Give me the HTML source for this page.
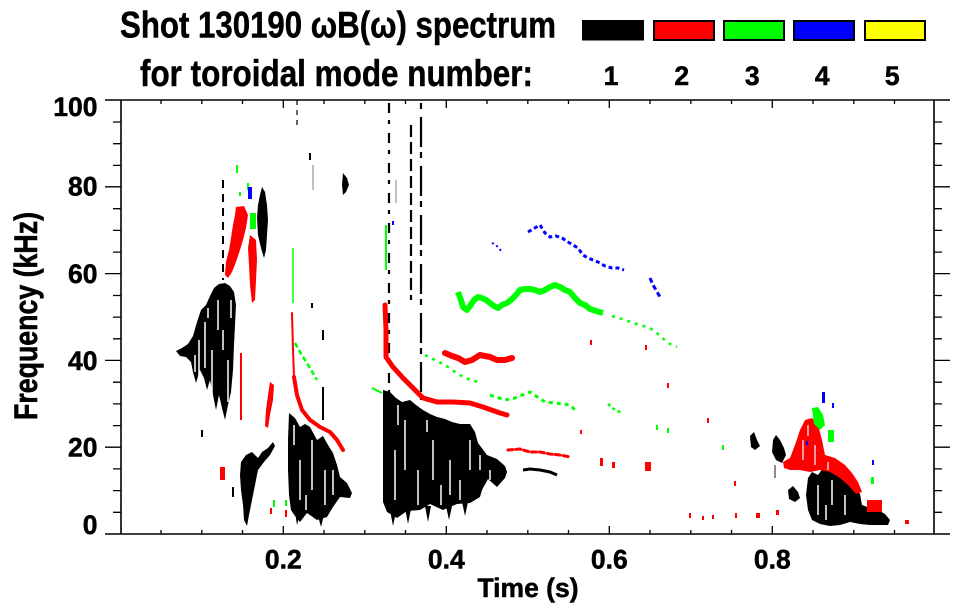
<!DOCTYPE html>
<html><head><meta charset="utf-8"><style>
html,body{margin:0;padding:0;background:#fff;}
svg{display:block;}
text{font-family:"Liberation Sans",Arial,sans-serif;font-weight:bold;fill:#000;stroke:#000;stroke-width:0.5;}
</style></head><body>
<svg width="963" height="615" viewBox="0 0 963 615" xmlns="http://www.w3.org/2000/svg">
<rect width="963" height="615" fill="#fff"/>

<!-- Title -->
<text x="120" y="37.3" font-size="37.5" textLength="436" lengthAdjust="spacingAndGlyphs">Shot 130190 ωB(ω) spectrum</text>
<text x="140" y="86" font-size="37.5" textLength="393" lengthAdjust="spacingAndGlyphs">for toroidal mode number:</text>

<!-- Legend -->
<rect x="582" y="20" width="62" height="20.5" fill="#000"/>
<rect x="654" y="21" width="60" height="19" fill="#ff0000" stroke="#000" stroke-width="2"/>
<rect x="724" y="21" width="60" height="19" fill="#00ff00" stroke="#000" stroke-width="2"/>
<rect x="794" y="21" width="60" height="19" fill="#0000ff" stroke="#000" stroke-width="2"/>
<rect x="865" y="21" width="60" height="19" fill="#ffff00" stroke="#000" stroke-width="2"/>
<g font-size="26.5" text-anchor="middle">
<text x="611" y="85">1</text>
<text x="681.7" y="85">2</text>
<text x="752.3" y="85">3</text>
<text x="822.3" y="85">4</text>
<text x="892.3" y="85">5</text>
</g>

<!-- ===== DATA ===== -->
<g fill="#000">
<polygon points="176,351 182,348 188,344 193,336 197,322 201,310 206,305 210,296 214,288 219,284 225,283 230,286 234,292 236,305 235,325 234,345 233,370 231,392 228,405 225,420 222,408 219,395 216,410 213,395 210,380 207,390 204,378 200,370 196,383 193,372 191,362 186,357 180,356"/>
<polygon points="262,187 265,192 267,205 268,220 267,235 266,250 264,258 261,248 258,235 257,218 258,205 260,195"/>
<polygon points="241,462 246,455 252,452 258,458 262,452 268,448 273,442 275,446 270,455 264,462 258,470 255,485 252,500 249,515 247,526 244,520 243,505 241,490 240,475"/>
<polygon points="289,413 295,418 300,427 305,424 310,427 317,440 323,436 328,445 333,453 337,465 340,477 347,483 352,493 350,498 340,497 333,507 327,517 317,520 307,513 300,522 295,516 291,510 289,495 288,470 288,440"/>
<polygon points="343,173 347,178 349,185 346,192 343,195 342,185"/>
<polygon points="383,390 390,392 396,398 402,402 410,400 416,405 423,410 430,414 437,417 445,419 452,422 460,424 470,424 475,432 478,443 487,455 497,459 505,466 507,472 505,478 497,487 488,479 482,490 480,497 470,503 457,504 443,510 430,504 420,510 407,511 397,518 387,512 383,502"/>
<!-- bottom spikes of L -->
<polygon points="390,510 393,526 396,512"/>
<polygon points="405,508 408,524 411,509"/>
<polygon points="425,506 428,522 431,506"/>
<polygon points="446,506 449,520 452,506"/>
<polygon points="462,502 465,516 468,502"/>
<polygon points="295,512 297,525 300,514"/>
<polygon points="318,516 321,527 324,515"/>
<!-- late black blobs -->
<polygon points="750,436 754,432 757,440 760,446 755,450 751,447"/>
<polygon points="773,440 776,435 780,440 784,448 786,455 782,463 776,460 772,452"/>
<polygon points="788,490 793,486 798,492 800,498 795,502 789,499"/>
<polygon points="808,478 812,472 818,475 823,468 830,466 835,472 840,478 845,475 850,485 855,488 860,494 862,505 870,508 878,510 885,514 890,520 888,525 870,525 860,524 850,522 840,525 830,526 820,524 812,520 808,510 806,495"/>
<polyline points="523,470 530,469 540,470 550,472 557,475" fill="none" stroke="#000" stroke-width="3"/>
</g>

<!-- black vertical dashed columns -->
<g stroke="#000" fill="none">
<path d="M223,180 V280" stroke-width="2" stroke-dasharray="8 6"/>
<path d="M389,103 V400" stroke-width="2.2" stroke-dasharray="10 7 4 9"/>
<path d="M411,125 V300" stroke-width="2.2" stroke-dasharray="12 5"/>
<path d="M421,103 V400" stroke-width="2.2" stroke-dasharray="6 8 30 5"/>
<path d="M297,100 V130" stroke-width="1.2" stroke-dasharray="5 5"/>
<path d="M310,153 V160" stroke-width="2"/>
<path d="M323,330 V340 M323,387 V420 M312,303 V308 M233,487 V497 M202,430 V437" stroke-width="2"/>
<path d="M775,465 V478" stroke-width="1.5" stroke="#666"/>
<path d="M313,165 V190 M396,180 V203" stroke-width="1.5" stroke="#aaa"/>
</g>

<!-- red features -->
<g fill="#ff0000">
<polygon points="236,207 244,206 248,215 246,228 243,240 240,250 236,262 232,272 228,278 225,275 226,262 229,250 231,238 233,225 235,215"/>
<polygon points="250,235 256,240 257,260 256,280 255,300 252,303 250,285 249,265 248,248"/>
<polygon points="270,382 274,385 273,400 270,415 268,428 265,426 266,410 268,395"/>
<polygon points="783,462 790,458 795,445 800,430 805,420 812,418 818,425 822,440 825,455 835,458 845,465 852,473 858,482 862,492 856,494 848,485 840,478 830,472 820,470 810,472 800,470 790,470 784,468"/>
<rect x="867" y="500" width="15" height="12"/>
<rect x="240" y="353" width="2" height="67"/>
<rect x="220" y="467" width="5" height="13"/>
<rect x="270" y="508" width="2" height="6"/>
<rect x="285" y="510" width="2" height="7"/>
<rect x="600" y="458" width="3" height="8"/>
<rect x="612" y="462" width="3" height="6"/>
<rect x="645" y="462" width="6" height="9"/>
<rect x="667" y="383" width="2" height="5"/>
<rect x="707" y="418" width="2" height="5"/>
<rect x="734" y="481" width="2" height="5"/>
<rect x="689" y="513" width="2" height="5"/>
<rect x="702" y="516" width="2" height="4"/>
<rect x="712" y="515" width="2" height="4"/>
<rect x="735" y="513" width="2" height="5"/>
<rect x="756" y="513" width="4" height="5"/>
<rect x="776" y="510" width="3" height="5"/>
<rect x="905" y="520" width="4" height="4"/>
<rect x="645" y="345" width="2" height="5"/>
<rect x="590" y="340" width="2" height="5"/>
<rect x="580" y="430" width="2" height="4"/>
</g>
<g fill="none" stroke="#ff0000" stroke-linejoin="round" stroke-linecap="round">
<polyline points="292,313 293,350 294,377" stroke-width="2"/>
<polyline points="294,377 297,395 302,410 310,420 320,427 330,432 337,440 343,450" stroke-width="4"/>
<polyline points="385,305 386,330 386,357 393,367 403,378 413,388 423,398 437,402 453,402 470,403 483,407 500,413 507,415" stroke-width="5"/>
<polyline points="445,353 452,356 458,358 465,362 472,360 480,355 490,357 497,360 505,360 512,358" stroke-width="6"/>
<polyline points="508,450 520,449 530,452 540,452 550,454 560,455 570,457" stroke-width="3" stroke-dasharray="5 3"/>
</g>

<!-- white texture streaks over blobs -->
<g stroke="#fff" stroke-width="1.5" fill="none">
<path d="M199,340 V380 M205,322 V368 M212,350 V400 M218,300 V330 M228,360 V402 M195,355 V372 M223,330 V350 M208,308 V318 M231,300 V318"/>
<path d="M300,460 V500 M312,440 V490 M325,470 V505 M294,425 V445 M333,470 V495 M306,495 V510"/>
<path d="M395,450 V500 M405,420 V470 M418,470 V505 M433,440 V480 M450,460 V495 M470,440 V470 M490,470 V480 M398,405 V425 M460,480 V500 M427,420 V432 M441,485 V505 M480,455 V470"/>
<path d="M818,485 V515 M832,480 V505 M845,495 V515 M826,505 V520"/>
<path d="M803,440 V460 M815,445 V465 M828,462 V470 M808,425 V436" stroke-width="1.2"/>
</g>

<!-- green features -->
<g fill="none" stroke="#00ff00" stroke-linejoin="round">
<polyline points="458,292 461,300 463,307 467,310 470,306 474,300 478,297 482,298 486,300 490,303 494,306 498,308 502,305 507,303 511,300 515,296 520,290 525,289 530,289 535,290 540,292 545,290 550,287 555,285 560,287 565,290 570,292 575,298 580,303 585,305 590,309 596,311 603,313" stroke-width="6"/>
<polyline points="295,343 300,352 305,360 310,368 317,380" stroke-width="2.5" stroke-dasharray="5 3"/>
<path d="M293,248 V303" stroke-width="1.5"/>
<path d="M386,225 V270" stroke-width="2"/>
<polyline points="425,355 435,360 445,365 455,372 465,378 478,382" stroke-width="2.5" stroke-dasharray="3 5"/>
<polyline points="490,395 505,400 515,398 530,392 545,402 555,403 570,405 577,412" stroke-width="3" stroke-dasharray="4 4"/>
<polyline points="608,404 615,410 623,413" stroke-width="2.5" stroke-dasharray="3 3"/>
<polyline points="612,316 625,320 640,325 650,328 658,334 668,343 677,347" stroke-width="2.5" stroke-dasharray="3 5"/>
<polyline points="372,388 382,393" stroke-width="2"/>
</g>
<g fill="#00ff00">
<polygon points="812,408 818,407 823,415 825,425 820,430 814,424"/>
<rect x="828" y="430" width="6" height="12"/>
<rect x="871" y="477" width="3" height="7"/>
<rect x="236" y="165" width="2" height="8"/>
<rect x="239" y="192" width="2" height="4"/>
<rect x="247" y="183" width="2" height="7"/>
<rect x="250" y="213" width="6" height="16"/>
<rect x="273" y="500" width="2" height="7"/>
<rect x="285" y="500" width="2" height="6"/>
<rect x="656" y="425" width="2" height="5"/>
<rect x="667" y="428" width="2" height="5"/>
<rect x="722" y="445" width="2" height="5"/>
</g>

<!-- blue features -->
<g fill="none" stroke="#0000ff">
<polyline points="528,232 533,229 540,225 545,233 550,237 556,236 562,238 568,242 573,245 578,248 583,255 588,258 593,260 598,262 605,266 612,268 618,268 624,270" stroke-width="3" stroke-dasharray="4 3"/>
<polyline points="492,243 496,245 503,253" stroke-width="2" stroke-dasharray="2 3"/>
<polyline points="650,278 653,285 656,290 660,297" stroke-width="3" stroke-dasharray="5 3"/>
</g>
<g fill="#0000ff">
<rect x="248" y="187" width="4" height="12"/>
<rect x="822" y="392" width="3" height="11"/>
<rect x="832" y="403" width="2" height="5"/>
<rect x="872" y="460" width="2" height="5"/>
<rect x="392" y="221" width="2" height="4"/>
<rect x="806" y="441" width="2" height="4"/>
</g>

<!-- ===== AXES ===== -->
<g stroke="#000" fill="none">
<path d="M121,100 V534 M934,100 V534" stroke-width="1.6"/>
<path d="M105,100 H950 M105,534 H950" stroke-width="1.6"/>
<path stroke-width="1.3" d="
M105,447.2 H121 M105,360.4 H121 M105,273.6 H121 M105,186.8 H121
M113,512.3 H121 M113,490.6 H121 M113,468.9 H121 M113,425.6 H121 M113,403.9 H121 M113,382.2 H121
M113,338.8 H121 M113,317.1 H121 M113,295.5 H121 M113,252.1 H121 M113,230.4 H121 M113,208.7 H121
M113,165.4 H121 M113,143.7 H121 M113,122.0 H121
M934,447.2 H950 M934,360.4 H950 M934,273.6 H950 M934,186.8 H950
M934,512.3 H942 M934,490.6 H942 M934,468.9 H942 M934,425.6 H942 M934,403.9 H942 M934,382.2 H942
M934,338.8 H942 M934,317.1 H942 M934,295.5 H942 M934,252.1 H942 M934,230.4 H942 M934,208.7 H942
M934,165.4 H942 M934,143.7 H942 M934,122.0 H942"/>
<path stroke-width="1.3" d="
M283.3,534 V526 M446.3,534 V526 M609.3,534 V526 M772.3,534 V526
M161,534 V530 M201.8,534 V530 M242.5,534 V530 M324,534 V530 M364.8,534 V530 M405.5,534 V530
M487,534 V530 M527.8,534 V530 M568.5,534 V530 M650,534 V530 M690.8,534 V530 M731.5,534 V530
M813,534 V530 M853.8,534 V530 M894.5,534 V530
M283.3,100 V108 M446.3,100 V108 M609.3,100 V108 M772.3,100 V108
M161,100 V104 M201.8,100 V104 M242.5,100 V104 M324,100 V104 M364.8,100 V104 M405.5,100 V104
M487,100 V104 M527.8,100 V104 M568.5,100 V104 M650,100 V104 M690.8,100 V104 M731.5,100 V104
M813,100 V104 M853.8,100 V104 M894.5,100 V104"/>
</g>

<!-- tick labels -->
<g font-size="26.5" text-anchor="middle">
<text x="283.3" y="568.5">0.2</text>
<text x="446.3" y="568.5">0.4</text>
<text x="609.3" y="568.5">0.6</text>
<text x="772.3" y="568.5">0.8</text>
</g>
<g font-size="26.5" text-anchor="end">
<text x="97.5" y="116">100</text>
<text x="97.5" y="195.5">80</text>
<text x="97.5" y="283">60</text>
<text x="97.5" y="370">40</text>
<text x="97.5" y="456.5">20</text>
<text x="97.5" y="534">0</text>
</g>
<text x="528" y="597" font-size="26.5" text-anchor="middle">Time (s)</text>
<text transform="translate(37,316) rotate(-90) scale(1,1.2)" x="0" y="0" font-size="26.7" text-anchor="middle" textLength="208" lengthAdjust="spacingAndGlyphs">Frequency (kHz)</text>
</svg>
</body></html>
